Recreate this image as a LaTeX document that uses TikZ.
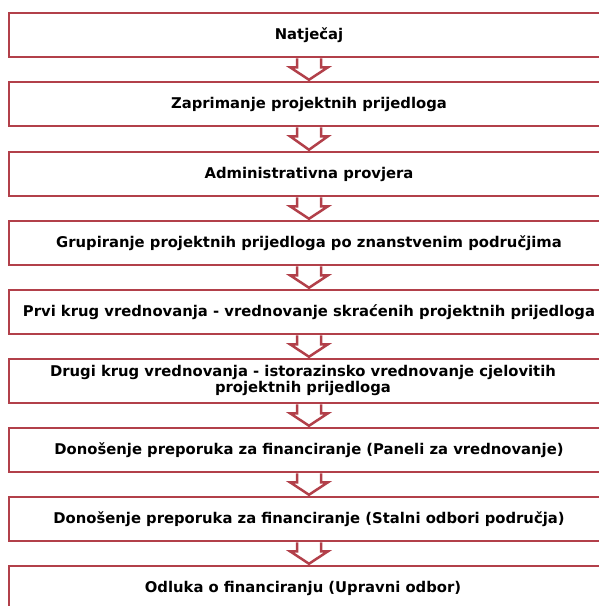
\documentclass[tikz,border=0pt]{standalone}
\usepackage{fontspec}
\setmainfont{DejaVu Sans}
\usetikzlibrary{calc}
\definecolor{boxred}{RGB}{178,64,74}
\tikzset{
  stepbox/.style={draw=boxred, line width=2.5pt, fill=white, minimum width=600pt,
    minimum height=44pt, inner sep=0pt, align=center,
    font=\fontsize{14.8}{16.5}\selectfont\bfseries},
  flowarrow/.style={draw=boxred, line width=2.5pt, line join=miter}
}
\newcommand{\flowarr}[2]{%
  \draw[flowarrow] ($(#1.south)+(-12,0)$) |- ($(#1.south)+(-19,9)$) -- ($(#2.north)+(0,-1)$)
    -- ($(#1.south)+(19,9)$) -| ($(#1.south)+(12,0)$);}
\begin{document}
\begin{tikzpicture}[x=1pt,y=-1pt]
\useasboundingbox (0,0) rectangle (599,606);
\clip (0,0) rectangle (599,606);
\node[stepbox] (n1) at (309,35) {Natječaj};
\node[stepbox] (n2) at (309,104) {Zaprimanje projektnih prijedloga};
\node[stepbox] (n3) at (309,174) {Administrativna provjera};
\node[stepbox] (n4) at (309,243) {Grupiranje projektnih prijedloga po znanstvenim područjima};
\node[stepbox] (n5) at (309,312) {Prvi krug vrednovanja - vrednovanje skraćenih projektnih prijedloga};
\node[stepbox] (n6) at (309,381) {\hspace*{-12pt}\begin{tabular}{@{}c@{}}Drugi krug vrednovanja - istorazinsko vrednovanje cjelovitih\\projektnih prijedloga\end{tabular}};
\node[stepbox] (n7) at (309,450) {Donošenje preporuka za financiranje (Paneli za vrednovanje)};
\node[stepbox] (n8) at (309,519) {Donošenje preporuka za financiranje (Stalni odbori područja)};
\node[stepbox] (n9) at (309,588) {\hspace*{-12pt}Odluka o financiranju (Upravni odbor)};
\flowarr{n1}{n2}
\flowarr{n2}{n3}
\flowarr{n3}{n4}
\flowarr{n4}{n5}
\flowarr{n5}{n6}
\flowarr{n6}{n7}
\flowarr{n7}{n8}
\flowarr{n8}{n9}
\end{tikzpicture}
\end{document}
